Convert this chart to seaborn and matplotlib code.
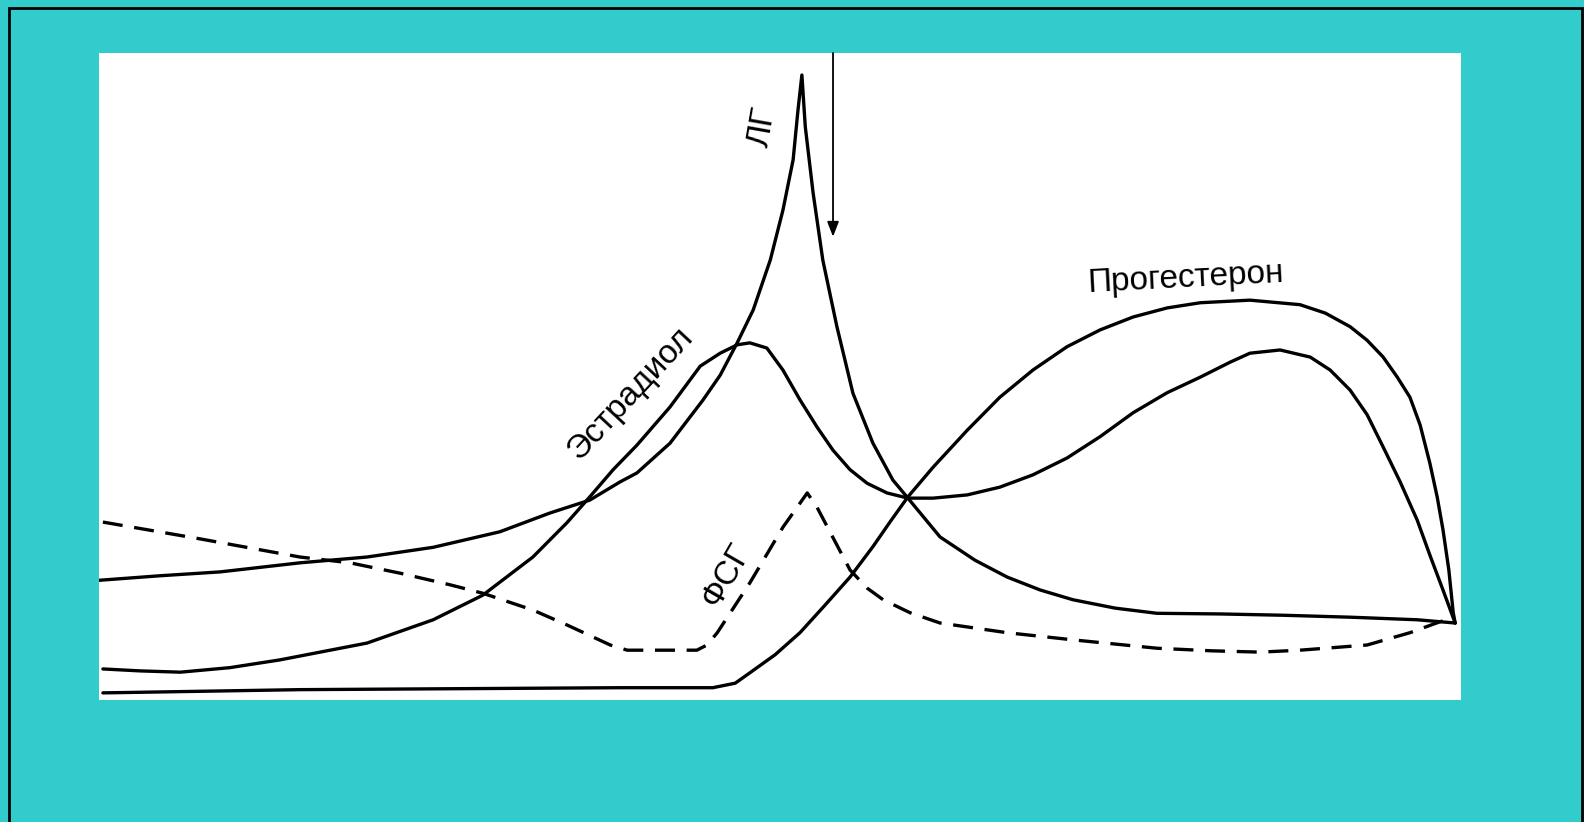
import matplotlib
matplotlib.use("Agg")
import matplotlib.pyplot as plt
import seaborn as sns
import pandas as pd
from matplotlib.patches import Rectangle

# day of cycle (0-28) and relative hormone level (0-100)
lh_day = [0.00, 1.25, 2.49, 4.13, 5.51, 6.87, 8.24, 9.27, 10.09, 10.71, 11.06, 11.74,
          12.42, 12.77, 13.12, 13.45, 13.80, 14.06, 14.27, 14.37, 14.45, 14.52, 14.68,
          14.88, 15.17, 15.50, 15.91, 16.32, 16.63, 17.29, 18.01, 18.67, 19.35, 20.02,
          20.89, 21.75, 23.05, 24.34, 25.72, 27.10, 27.88]
lh_level = [18.5, 19.2, 19.8, 21.2, 22.1, 23.6, 26.0, 28.9, 30.9, 33.7, 35.1, 39.7,
            46.4, 50.2, 55.2, 60.3, 68.0, 75.7, 83.5, 91.2, 96.6, 88.6, 78.4,
            68.0, 57.7, 47.4, 39.7, 34.0, 31.2, 25.2, 21.6, 19.0, 17.0, 15.5,
            14.2, 13.4, 13.3, 13.1, 12.8, 12.4, 11.9]

e2_day = [0.08, 0.84, 1.67, 2.69, 3.72, 5.51, 6.87, 7.89, 8.92, 9.62, 10.09, 10.57,
          11.06, 11.74, 12.36, 12.77, 13.12, 13.38, 13.73, 14.06, 14.41, 14.76, 15.09,
          15.44, 15.79, 16.20, 16.63, 17.15, 17.85, 18.52, 19.20, 19.90, 20.58, 21.26,
          21.96, 22.64, 23.25, 23.66, 24.28, 24.90, 25.31, 25.72, 26.07, 26.40, 26.75,
          27.10, 27.36, 27.63, 27.88]
e2_level = [4.8, 4.5, 4.3, 5.0, 6.2, 8.8, 12.4, 16.2, 22.1, 27.4, 31.4, 35.6,
            39.4, 45.3, 51.6, 53.6, 54.9, 55.2, 54.4, 51.0, 46.4, 42.2, 38.6,
            35.6, 33.5, 32.0, 31.2, 31.2, 31.7, 32.9, 34.8, 37.4, 40.7, 44.4,
            47.5, 49.9, 52.2, 53.6, 54.1, 53.0, 51.0, 47.9, 44.1, 39.1, 33.7,
            27.8, 22.4, 17.0, 11.9]

prog_day = [0.08, 4.13, 10.71, 12.62, 13.08, 13.38, 13.90, 14.41, 14.93, 15.44, 15.91,
            16.26, 16.63, 17.15, 17.85, 18.52, 19.20, 19.90, 20.58, 21.26, 21.96, 22.64,
            23.66, 24.69, 25.21, 25.72, 26.07, 26.40, 26.69, 26.95, 27.16, 27.36, 27.51,
            27.63, 27.75, 27.84, 27.88]
prog_level = [1.1, 1.6, 1.9, 1.9, 2.6, 4.2, 7.0, 10.4, 14.7, 19.0, 23.7,
              27.5, 31.4, 36.0, 41.7, 46.8, 51.0, 54.6, 57.2, 59.2, 60.6, 61.4,
              61.8, 61.1, 59.8, 57.7, 55.6, 53.0, 49.9, 46.8, 42.5, 36.6, 31.4,
              26.3, 20.1, 13.5, 11.9]

fsh_day = [0.08, 2.08, 4.13, 5.16, 6.19, 7.22, 7.89, 8.92, 9.62, 10.51, 10.86, 12.29,
           12.50, 12.71, 13.38, 14.06, 14.56, 14.76, 15.44, 15.79, 16.12, 16.67, 17.29,
           18.67, 20.02, 21.75, 22.88, 23.87, 24.69, 26.07, 26.95, 27.57, 27.88]
fsh_level = [27.5, 24.9, 22.1, 21.2, 19.6, 17.8, 16.5, 13.9, 11.6, 8.5, 7.7, 7.7,
             8.5, 10.4, 18.1, 26.7, 32.0, 29.8, 20.1, 17.3, 15.5, 13.5, 11.9,
             10.4, 9.3, 8.0, 7.6, 7.4, 7.7, 8.5, 10.4, 12.1, 12.7]

ovulation_day = 15.09
arrow_tip = 71.6

teal = "#33CCCC"

sns.set_style("white")
plt.rcParams['font.family'] = ["Liberation Sans", "DejaVu Sans"]
plt.rcParams['text.color'] = "black"

fig = plt.figure(figsize=(15.84, 8.22), dpi=100, facecolor=teal)
ax = fig.add_axes([99 / 1584, 122 / 822, 1362 / 1584, 647 / 822])
ax.set_facecolor("white")

series = [(lh_day, lh_level), (e2_day, e2_level), (prog_day, prog_level)]
for d, v in series:
    df = pd.DataFrame({"day": d, "level": v})
    sns.lineplot(data=df, x="day", y="level", sort=False, estimator=None,
                 color="black", lw=2.4, ax=ax)

df_fsh = pd.DataFrame({"day": fsh_day, "level": fsh_level})
sns.lineplot(data=df_fsh, x="day", y="level", sort=False, estimator=None,
             color="black", lw=2.4, ax=ax)
ax.lines[-1].set_dashes((6, 3.5))

for ln in ax.lines:
    ln.set_solid_joinstyle("round")
    ln.set_dash_joinstyle("round")

# ovulation arrow
ax.annotate("", xy=(ovulation_day, arrow_tip), xytext=(ovulation_day, 100),
            arrowprops=dict(arrowstyle="-|>,head_length=0.9,head_width=0.35",
                            color="black", lw=1.3, shrinkA=0, shrinkB=0))

ax.text(13.65, 88.6, "ЛГ", rotation=80, fontsize=24, ha="center", va="center")
ax.text(10.92, 47.4, "Эстрадиол", rotation=47, fontsize=24, ha="center", va="center")
ax.text(12.91, 19.3, "ФСГ", rotation=60, fontsize=24, ha="center", va="center")
ax.text(22.33, 65.2, "Прогестерон", rotation=3, fontsize=24, ha="center", va="center")

ax.set_xlim(0, 28)
ax.set_ylim(0, 100)
ax.set_xlabel("")
ax.set_ylabel("")
ax.set_xticks([])
ax.set_yticks([])
for s in ax.spines.values():
    s.set_visible(False)

# black frame around the picture
fig.add_artist(Rectangle((9 / 1584, -0.05), 1573 / 1584, (822 - 8) / 822 + 0.05,
                         transform=fig.transFigure, fill=False,
                         edgecolor="black", lw=2))

fig.savefig("out.png", dpi=100, facecolor=teal)
